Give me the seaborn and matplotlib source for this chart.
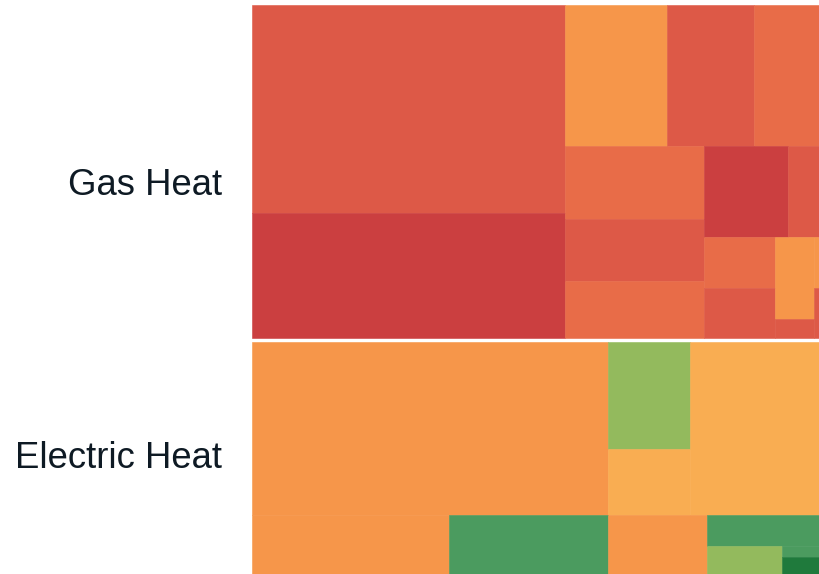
import matplotlib
matplotlib.use("Agg")
import matplotlib.pyplot as plt
from matplotlib.patches import Rectangle
import seaborn as sns

# Heating system groups and the usage of each cell (annual kWh, hundreds)
groups = ["Gas Heat", "Electric Heat"]

gas_usage = [651.0, 391.3, 143.8, 122.7, 91.7, 101.5, 86.2, 79.2,
             77.3, 28.5, 36.2, 34.8, 31.6, 7.4, 2.6, 2.5]
gas_band = [1, 0, 3, 1, 2, 2, 1, 2, 0, 1, 2, 1, 3, 1, 3, 1]

electric_usage = [616.3, 88.3, 53.6, 223.3, 117.0, 94.4, 58.8,
                  34.9, 21.1, 4.1, 6.3]
electric_band = [3, 5, 4, 4, 3, 6, 3, 6, 5, 6, 7]

# Efficiency band colours, worst (0) to best (7)
band_colors = ["#cb3f40", "#dd5947", "#e86c48", "#f6964a",
               "#f9ad52", "#93ba5d", "#4b9b5f", "#1f7a3c"]

# Nesting of the cells: "h" = side by side, "v" = stacked
gas_tree = ("h", [
    ("v", [0, 1]),
    ("v", [
        ("h", [2, 3, 4]),
        ("h", [
            ("v", [5, 6, 7]),
            ("v", [
                ("h", [8, 9]),
                ("h", [("v", [10, 11]), ("v", [12, 13]), ("v", [14, 15])]),
            ]),
        ]),
    ]),
])

electric_tree = ("v", [
    ("h", [0, ("v", [1, 2]), 3]),
    ("h", [4, 5, 6, ("v", [7, ("h", [8, ("v", [9, 10])])])]),
])


def total(node, values):
    if isinstance(node, int):
        return values[node]
    return sum(total(k, values) for k in node[1])


def place(node, values, x, y, w, h, out):
    if isinstance(node, int):
        out.append((node, x, y, w, h))
        return
    direction, kids = node
    tot = total(node, values)
    for k in kids:
        frac = total(k, values) / tot
        if direction == "h":
            place(k, values, x, y, w * frac, h, out)
            x += w * frac
        else:
            place(k, values, x, y, w, h * frac, out)
            y += h * frac


sns.set_theme(style="white")
plt.rcParams["font.family"] = ["Liberation Sans", "DejaVu Sans"]

W, H = 819, 574
fig = plt.figure(figsize=(W / 100, H / 100), dpi=100)
fig.patch.set_facecolor("white")

ax = fig.add_axes([252 / W, 0, 567 / W, 569.5 / H])
ax.set_xlim(0, 1)
ax.set_ylim(1, 0)
ax.axis("off")

palette = sns.color_palette(band_colors)
gap = 4 / 569.5
tot_g = sum(gas_usage)
tot_e = sum(electric_usage)
avail = 1 - gap
h_gas = avail * tot_g / (tot_g + tot_e)
h_ele = avail - h_gas

cells = []
place(gas_tree, gas_usage, 0, 0, 1, h_gas, cells)
for idx, x, y, w, h in cells:
    c = palette[gas_band[idx]]
    ax.add_patch(Rectangle((x, y), w, h, facecolor=c, edgecolor=c, lw=0.4))

cells = []
place(electric_tree, electric_usage, 0, h_gas + gap, 1, h_ele, cells)
for idx, x, y, w, h in cells:
    c = palette[electric_band[idx]]
    ax.add_patch(Rectangle((x, y), w, h, facecolor=c, edgecolor=c, lw=0.4))

# Group labels on the left
label_baselines = [195, 468.5]
for name, yb in zip(groups, label_baselines):
    fig.text(222 / W, 1 - yb / H, name, ha="right", va="baseline",
             fontsize=26.3, color="#0e1a24")

fig.savefig("out.png", dpi=100, facecolor="white")
